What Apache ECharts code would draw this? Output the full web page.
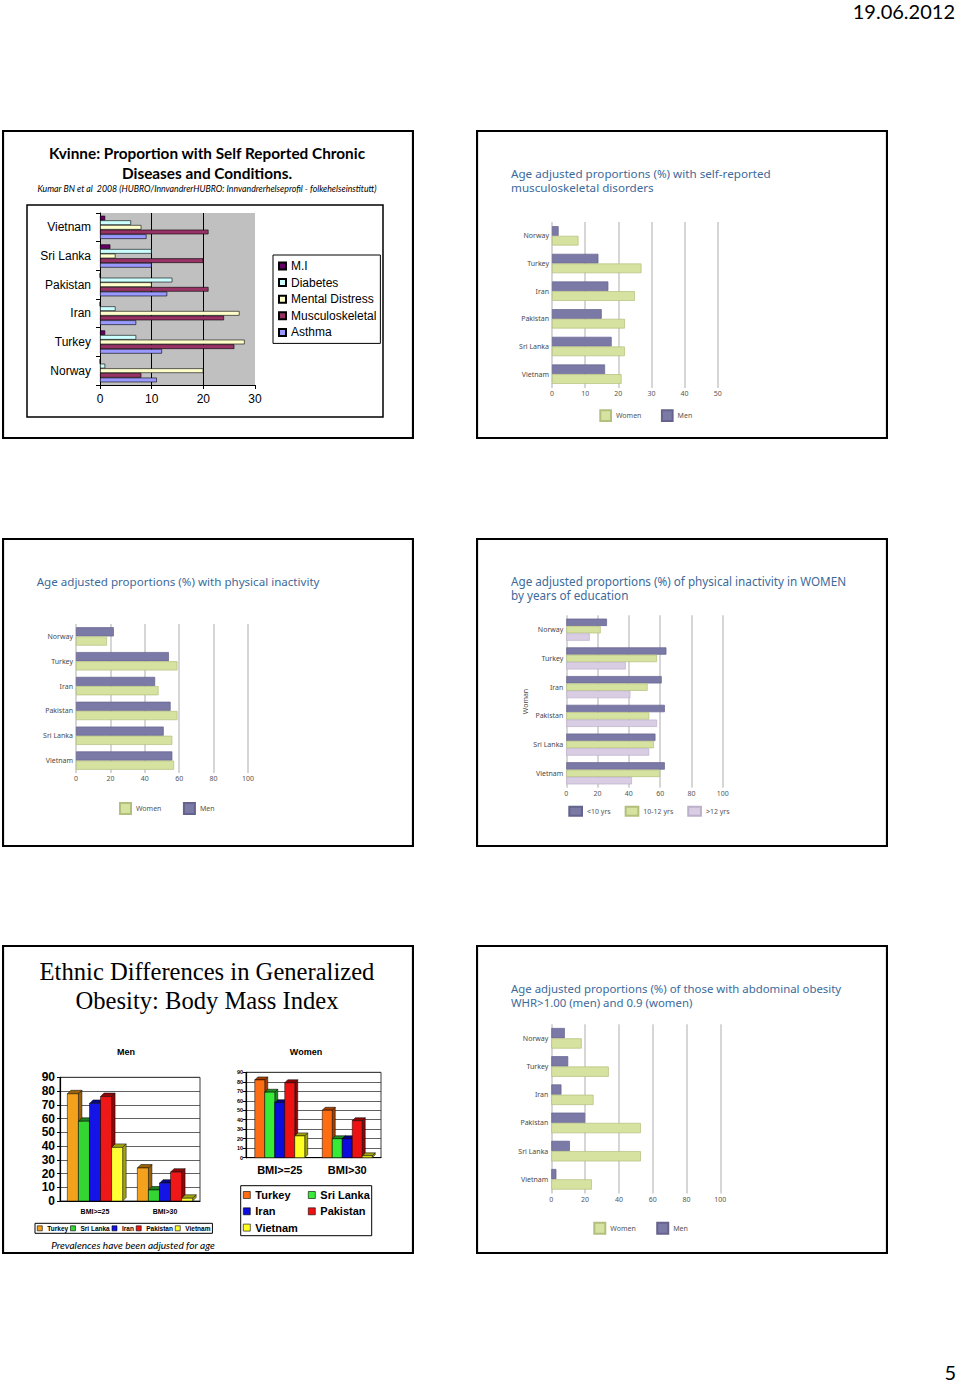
<!DOCTYPE html>
<html><head><meta charset="utf-8"><title>Slides</title>
<script src="https://cdn.jsdelivr.net/npm/echarts@6.0.0/dist/echarts.min.js"></script>
<style>
html,body{margin:0;padding:0;background:#fff}
#page{position:relative;width:960px;height:1384px;overflow:hidden;background:#fff}
.panel{position:absolute;width:412px;height:309px}
.pg{position:absolute;font-family:Lato,"Open Sans",sans-serif;color:#000;line-height:1;white-space:nowrap}
</style></head>
<body><div id="page">
<div class="pg" style="right:5px;top:1px;font-size:20px">19.06.2012</div>
<div class="pg" style="right:4px;top:1362px;font-size:20px">5</div>
<div class="panel" id="p1" style="left:2px;top:130px"></div>
<div class="panel" id="p2" style="left:476px;top:130px"></div>
<div class="panel" id="p3" style="left:2px;top:538px"></div>
<div class="panel" id="p4" style="left:476px;top:538px"></div>
<div class="panel" id="p5" style="left:2px;top:945px"></div>
<div class="panel" id="p6" style="left:476px;top:945px"></div>
</div>
<script>
// ---------------- DATA ----------------
// Slide 1: Kvinne, self reported chronic diseases (%)
const chronicCountries = ['Vietnam', 'Sri Lanka', 'Pakistan', 'Iran', 'Turkey', 'Norway'];
const chronicConditions = ['M.I', 'Diabetes', 'Mental Distress', 'Musculoskeletal', 'Asthma'];
const chronicMI = [1, 2, 0, 0, 1, 0];
const chronicDiabetes = [6, 10, 14, 3, 7, 1];
const chronicMental = [8, 3, 10, 27, 28, 20];
const chronicMusculo = [21, 20, 21, 24, 26, 8];
const chronicAsthma = [9, 10, 13, 7, 12, 11];
const chronicTicks = [0, 10, 20, 30];

// Slides 2,3,4,6 share the country order
const surveyCountries = ['Norway', 'Turkey', 'Iran', 'Pakistan', 'Sri Lanka', 'Vietnam'];
// Slide 2: musculoskeletal disorders
const muscWomen = [8, 27, 25, 22, 22, 21];
const muscMen = [2, 14, 17, 15, 18, 16];
const muscTicks = [0, 10, 20, 30, 40, 50];
// Slide 3: physical inactivity
const inactWomen = [18, 59, 48, 59, 56, 57];
const inactMen = [22, 54, 46, 55, 51, 56];
const pctTicks = [0, 20, 40, 60, 80, 100];
// Slide 4: physical inactivity in women by education
const eduLevels = ['<10 yrs', '10-12 yrs', '>12 yrs'];
const eduUnder10 = [26, 64, 61, 63, 57, 63];
const edu10to12 = [22, 58, 52, 53, 56, 60];
const eduOver12 = [15, 38, 41, 58, 53, 42];
// Slide 5: BMI
const bmiGroups = ['BMI>=25', 'BMI>30'];
const bmiCountries = ['Turkey', 'Sri Lanka', 'Iran', 'Pakistan', 'Vietnam'];
const bmiMenTurkey = [78, 24];
const bmiMenSriLanka = [58, 8];
const bmiMenIran = [71, 13];
const bmiMenPakistan = [76, 21];
const bmiMenVietnam = [39, 2];
const bmiWomenTurkey = [82, 50];
const bmiWomenSriLanka = [69, 20];
const bmiWomenIran = [58, 20];
const bmiWomenPakistan = [79, 39];
const bmiWomenVietnam = [23, 2];
const bmiTicks = [0, 10, 20, 30, 40, 50, 60, 70, 80, 90];
// Slide 6: abdominal obesity
const whrWomen = [18, 34, 25, 53, 53, 24];
const whrMen = [8, 10, 6, 20, 11, 3];

// ---------------- HELPERS ----------------
const ARIAL = '"Liberation Sans", Arial, sans-serif';
const SMALL = '"Noto Sans", sans-serif';
const SERIF = '"Liberation Serif", serif';
const CAL = 'Lato, sans-serif';
const TITLE_BLUE = '#3C6A9A';
const fitCtx = document.createElement('canvas').getContext('2d');
function fit(text, family, weight, style, target) {
  fitCtx.font = style + ' ' + weight + ' 100px ' + family;
  return 100 * target / fitCtx.measureText(text).width;
}
function border() {
  return { type: 'rect', shape: { x: 1, y: 1, width: 410, height: 307 },
    style: { fill: 'none', stroke: '#000', lineWidth: 2.2 }, z: 100, silent: true };
}
function txt(text, x, y, size, family, o) {
  o = o || {};
  const al = o.align || 'left';
  return { type: 'text', x: x, y: y, z: 50, silent: true,
    style: { text: text, fill: o.color || '#000', fontSize: size, fontFamily: family,
      fontWeight: o.weight || 'normal', fontStyle: o.style || 'normal',
      align: al, textAlign: al, verticalAlign: 'middle', textVerticalAlign: 'middle' } };
}
function gridOf(l, t, w, h, extra) {
  return Object.assign({ left: l, top: t, width: w, height: h, containLabel: false, outerBoundsMode: 'none' }, extra || {});
}
function mk(id) { return echarts.init(document.getElementById(id), null, { renderer: 'svg', width: 412, height: 309 }); }

// ---------------- SLIDE 1 ----------------
(function () {
  const c = mk('p1');
  const l1 = 'Kvinne: Proportion with Self Reported Chronic';
  const tSize = fit(l1, CAL, 'bold', 'normal', 317);
  const sub = 'Kumar BN et al  2008 (HUBRO/InnvandrerHUBRO: Innvandrerhelseprofil - folkehelseinstitutt)';
  const sSize = fit(sub, CAL, 'normal', 'italic', 340);
  const vals = [chronicMI, chronicDiabetes, chronicMental, chronicMusculo, chronicAsthma];
  const cols = ['#660066', '#CCFFFF', '#FFFFCC', '#993366', '#9999FF'];
  c.setOption({
    animation: false,
    graphic: [
      border(),
      { type: 'rect', shape: { x: 25, y: 75, width: 356, height: 212 }, style: { fill: 'none', stroke: '#000', lineWidth: 1.5 }, silent: true },
      txt(l1, 205, 22.7, tSize, CAL, { weight: 'bold', align: 'center' }),
      txt('Diseases and Conditions.', 205, 42.7, tSize, CAL, { weight: 'bold', align: 'center' }),
      txt(sub, 205, 58, sSize, CAL, { style: 'italic', align: 'center' })
    ],
    grid: gridOf(98, 83, 155, 172, { show: true, backgroundColor: '#C0C0C0', borderWidth: 0 }),
    xAxis: { type: 'value', min: chronicTicks[0], max: chronicTicks[chronicTicks.length - 1], interval: chronicTicks[1] - chronicTicks[0],
      axisLine: { show: true, lineStyle: { color: '#000', width: 1 } },
      axisTick: { show: true, length: 4, lineStyle: { color: '#000' } },
      axisLabel: { fontSize: 12, fontFamily: ARIAL, color: '#000', margin: 8 },
      splitLine: { show: true, showMinLine: false, showMaxLine: false, lineStyle: { color: '#000', width: 1 } } },
    yAxis: { type: 'category', inverse: true, data: chronicCountries,
      axisLine: { show: true, lineStyle: { color: '#000', width: 1 } },
      axisTick: { show: true, length: 4, lineStyle: { color: '#000' } },
      axisLabel: { fontSize: 12, fontFamily: ARIAL, color: '#000', margin: 9 } },
    legend: { orient: 'vertical', left: 271, top: 125, padding: [5, 4, 5, 5], borderColor: '#000', borderWidth: 1,
      backgroundColor: '#fff', itemWidth: 7, itemHeight: 7, itemGap: 4.6, icon: 'rect',
      textStyle: { fontSize: 12, fontFamily: ARIAL, color: '#000', lineHeight: 12 }, data: chronicConditions },
    series: chronicConditions.map(function (n, i) {
      return { type: 'bar', name: n, data: vals[i], barGap: '0%', barCategoryGap: '19%',
        itemStyle: { color: cols[i], borderColor: '#000', borderWidth: 0.6 } };
    })
  });
})();

// ---------------- PAIR / EDU CHARTS ----------------
function buildHBar(id, o) {
  const c = mk(id);
  const size = fit(o.title[0], SMALL, 'normal', 'normal', o.titleW);
  const g = [border()];
  o.title.forEach(function (t, i) { g.push(txt(t, o.titleX, o.titleY[i], size, SMALL, { color: TITLE_BLUE })); });
  const ticks = o.ticks;
  c.setOption({
    animation: false,
    graphic: g,
    grid: gridOf(o.grid[0], o.grid[1], o.grid[2], o.grid[3]),
    xAxis: { type: 'value', min: ticks[0], max: ticks[ticks.length - 1], interval: ticks[1] - ticks[0],
      axisLine: { show: false }, axisTick: { show: false },
      axisLabel: { fontSize: 7, fontFamily: SMALL, color: '#555', margin: o.xMargin },
      splitLine: { show: true, lineStyle: { color: '#C9C9C9', width: 1.5 } } },
    yAxis: { type: 'category', inverse: true, data: surveyCountries,
      axisLine: { show: false }, axisTick: { show: false },
      axisLabel: { fontSize: 7, fontFamily: SMALL, color: '#4A4A4A', margin: 3 },
      name: o.yName || '', nameLocation: 'middle', nameRotate: 90, nameGap: o.nameGap || 0,
      nameTextStyle: { fontSize: 7, fontFamily: SMALL, color: '#4A4A4A' } },
    legend: { left: o.legend.left, top: o.legend.top, itemWidth: o.legend.w, itemHeight: o.legend.h,
      itemGap: o.legend.gap, icon: 'rect', padding: 0,
      textStyle: { fontSize: 7, fontFamily: SMALL, color: '#555' }, data: o.legend.data },
    series: o.series.map(function (s) {
      return { type: 'bar', name: s.name, data: s.data, barGap: '0%', barCategoryGap: o.gap,
        itemStyle: { color: s.color, borderColor: s.border, borderWidth: 0.7 } };
    })
  });
}
const MEN_C = '#7B79A6', MEN_B = '#65638E';
const WOM_C = '#D6E2A0', WOM_B = '#B3BF7D';
const HIGH_C = '#D9CDE4', HIGH_B = '#BDB0CB';

buildHBar('p2', {
  title: ['Age adjusted proportions (%) with self-reported', 'musculoskeletal disorders'],
  titleX: 35, titleY: [43, 57], titleW: 260,
  grid: [76, 92, 165.7, 166], ticks: muscTicks, xMargin: 2, gap: '30%',
  legend: { left: 123.3, top: 279.3, w: 10.7, h: 10.7, gap: 19.5, data: ['Women', 'Men'] },
  series: [{ name: 'Men', data: muscMen, color: MEN_C, border: MEN_B },
           { name: 'Women', data: muscWomen, color: WOM_C, border: WOM_B }]
});
buildHBar('p3', {
  title: ['Age adjusted proportions (%) with physical inactivity'],
  titleX: 34.7, titleY: [43.3], titleW: 283,
  grid: [74, 86, 172, 149], ticks: pctTicks, xMargin: 1.5, gap: '26%',
  legend: { left: 117, top: 264, w: 11, h: 11, gap: 21.5, data: ['Women', 'Men'] },
  series: [{ name: 'Men', data: inactMen, color: MEN_C, border: MEN_B },
           { name: 'Women', data: inactWomen, color: WOM_C, border: WOM_B }]
});
buildHBar('p4', {
  title: ['Age adjusted proportions (%) of physical inactivity in WOMEN', 'by years of education'],
  titleX: 35, titleY: [43.3, 57], titleW: 335.7,
  grid: [90.3, 77.3, 156.4, 172.4], ticks: pctTicks, xMargin: 1.8, gap: '23%',
  yName: 'Woman', nameGap: 37,
  legend: { left: 92.3, top: 267.7, w: 12.7, h: 9, gap: 14, data: eduLevels },
  series: [{ name: eduLevels[0], data: eduUnder10, color: MEN_C, border: MEN_B },
           { name: eduLevels[1], data: edu10to12, color: WOM_C, border: WOM_B },
           { name: eduLevels[2], data: eduOver12, color: HIGH_C, border: HIGH_B }]
});
buildHBar('p6', {
  title: ['Age adjusted proportions (%) of those with abdominal obesity', 'WHR>1.00 (men) and 0.9 (women)'],
  titleX: 35, titleY: [43.3, 57], titleW: 330.7,
  grid: [75.3, 79.2, 169, 169.2], ticks: pctTicks, xMargin: 2.4, gap: '27%',
  legend: { left: 117.3, top: 276.7, w: 11, h: 11, gap: 20.5, data: ['Women', 'Men'] },
  series: [{ name: 'Men', data: whrMen, color: MEN_C, border: MEN_B },
           { name: 'Women', data: whrWomen, color: WOM_C, border: WOM_B }]
});

// ---------------- SLIDE 5 (3D-style columns) ----------------
(function () {
  const c = mk('p5');
  const tTitle = 'Ethnic Differences in Generalized';
  const tSize = fit(tTitle, SERIF, 'normal', 'normal', 335);
  const foot = 'Prevalences have been adjusted for age';
  const fSize = fit(foot, CAL, 'normal', 'italic', 164);
  const menData = [bmiMenTurkey, bmiMenSriLanka, bmiMenIran, bmiMenPakistan, bmiMenVietnam];
  const womData = [bmiWomenTurkey, bmiWomenSriLanka, bmiWomenIran, bmiWomenPakistan, bmiWomenVietnam];
  const menCol = ['#F4A21E', '#33D633', '#1414E6', '#EE1818', '#FFFF33'];
  const menDark = ['#9A6208', '#1C7E1C', '#0A0A82', '#8E0A0A', '#A3A312'];
  const womCol = ['#FF6C12', '#36EC36', '#0C0CDE', '#EE1111', '#FFFF22'];
  const womDark = ['#A33E00', '#1D8A1D', '#06067E', '#8C0606', '#A0A00C'];

  function bar3d(name, data, idx, col, dark, gi, gap, depth) {
    return {
      type: 'custom', name: name, coordinateSystem: 'cartesian2d', xAxisIndex: gi, yAxisIndex: gi,
      data: data.map(function (v, i) { return [i, v]; }), encode: { x: 0, y: 1 },
      itemStyle: { color: col, borderColor: '#000', borderWidth: 0.5 },
      renderItem: function (params, api) {
        const cat = api.value(0), val = api.value(1);
        const base = api.coord([cat, 0]), top = api.coord([cat, val]);
        const band = api.size([1, 0])[0];
        const gw = band * (1 - gap), bw = gw / 5;
        const x0 = base[0] - gw / 2 + idx * bw, y0 = top[1], y1 = base[1], d = depth;
        const st = { stroke: '#000', lineWidth: 0.5 };
        return { type: 'group', children: [
          { type: 'polygon', shape: { points: [[x0 + bw, y0], [x0 + bw + d, y0 - d], [x0 + bw + d, y1 - d], [x0 + bw, y1]] },
            style: Object.assign({ fill: dark }, st) },
          { type: 'polygon', shape: { points: [[x0, y0], [x0 + d, y0 - d], [x0 + bw + d, y0 - d], [x0 + bw, y0]] },
            style: Object.assign({ fill: dark }, st) },
          { type: 'rect', shape: { x: x0, y: y0, width: bw, height: y1 - y0 },
            style: Object.assign({ fill: col }, st) }
        ] };
      }
    };
  }
  const series = [];
  bmiCountries.forEach(function (n, i) { series.push(bar3d(n, menData[i], i, menCol[i], menDark[i], 0, 0.21, 3.5)); });
  bmiCountries.forEach(function (n, i) { series.push(bar3d(n, womData[i], i, womCol[i], womDark[i], 1, 0.26, 3)); });

  function legendItems(names, cols) {
    return names.map(function (n) {
      return { name: n, itemStyle: { color: cols[bmiCountries.indexOf(n)], borderColor: '#000', borderWidth: 0.6 } };
    });
  }
  function yAx(gi, fs) {
    return { gridIndex: gi, type: 'value', min: bmiTicks[0], max: bmiTicks[bmiTicks.length - 1], interval: bmiTicks[1] - bmiTicks[0],
      axisLine: { show: true, lineStyle: { color: '#000', width: 1.2 } },
      axisTick: { show: true, length: 3, lineStyle: { color: '#000' } },
      axisLabel: { fontSize: fs, fontWeight: 'bold', fontFamily: ARIAL, color: '#000', margin: gi === 0 ? 5 : 3 },
      splitLine: { show: true, lineStyle: { color: '#3A3A3A', width: 0.8 } } };
  }
  function xAx(gi, fs, m) {
    return { gridIndex: gi, type: 'category', data: bmiGroups,
      axisLine: { show: true, lineStyle: { color: '#000', width: 1.2 } }, axisTick: { show: false },
      axisLabel: { fontSize: fs, fontWeight: 'bold', fontFamily: ARIAL, color: '#000', margin: m } };
  }
  const legText = function (fs, lh) { return { fontSize: fs, fontWeight: 'bold', fontFamily: ARIAL, color: '#000', lineHeight: lh }; };
  c.setOption({
    animation: false,
    graphic: [
      border(),
      txt(tTitle, 205, 26.7, tSize, SERIF, { align: 'center' }),
      txt('Obesity: Body Mass Index', 205, 55, tSize, SERIF, { align: 'center' }),
      txt('Men', 124, 107, 9, ARIAL, { weight: 'bold', align: 'center' }),
      txt('Women', 304, 107, 9, ARIAL, { weight: 'bold', align: 'center' }),
      txt(foot, 131, 300, fSize, CAL, { style: 'italic', align: 'center' }),
      { type: 'rect', shape: { x: 238.7, y: 240.7, width: 131, height: 50 }, style: { fill: '#fff', stroke: '#000', lineWidth: 1 }, z: -1, silent: true }
    ],
    grid: [gridOf(58, 132.3, 140, 123.7, { show: true, borderColor: '#3A3A3A', borderWidth: 1 }),
           gridOf(244, 127.3, 135, 85.4, { show: true, borderColor: '#3A3A3A', borderWidth: 1 })],
    xAxis: [xAx(0, 7, 6.5), xAx(1, 11, 7)],
    yAxis: [yAx(0, 12), yAx(1, 5.5)],
    legend: [
      { left: 33, top: 278.3, orient: 'horizontal', itemWidth: 5, itemHeight: 5, itemGap: 2, padding: [1, 2, 1, 2],
        borderColor: '#000', borderWidth: 1, icon: 'rect', textStyle: legText(6.5, 8), data: legendItems(bmiCountries, menCol) },
      { left: 241, top: 243.5, orient: 'vertical', itemWidth: 7, itemHeight: 7, itemGap: 3.3, padding: 0, icon: 'rect',
        textStyle: legText(11, 13), data: legendItems(['Turkey', 'Iran', 'Vietnam'], womCol) },
      { left: 306, top: 243.5, orient: 'vertical', itemWidth: 7, itemHeight: 7, itemGap: 3.3, padding: 0, icon: 'rect',
        textStyle: legText(11, 13), data: legendItems(['Sri Lanka', 'Pakistan'], womCol) }
    ],
    series: series
  });
})();
</script>
</body></html>
